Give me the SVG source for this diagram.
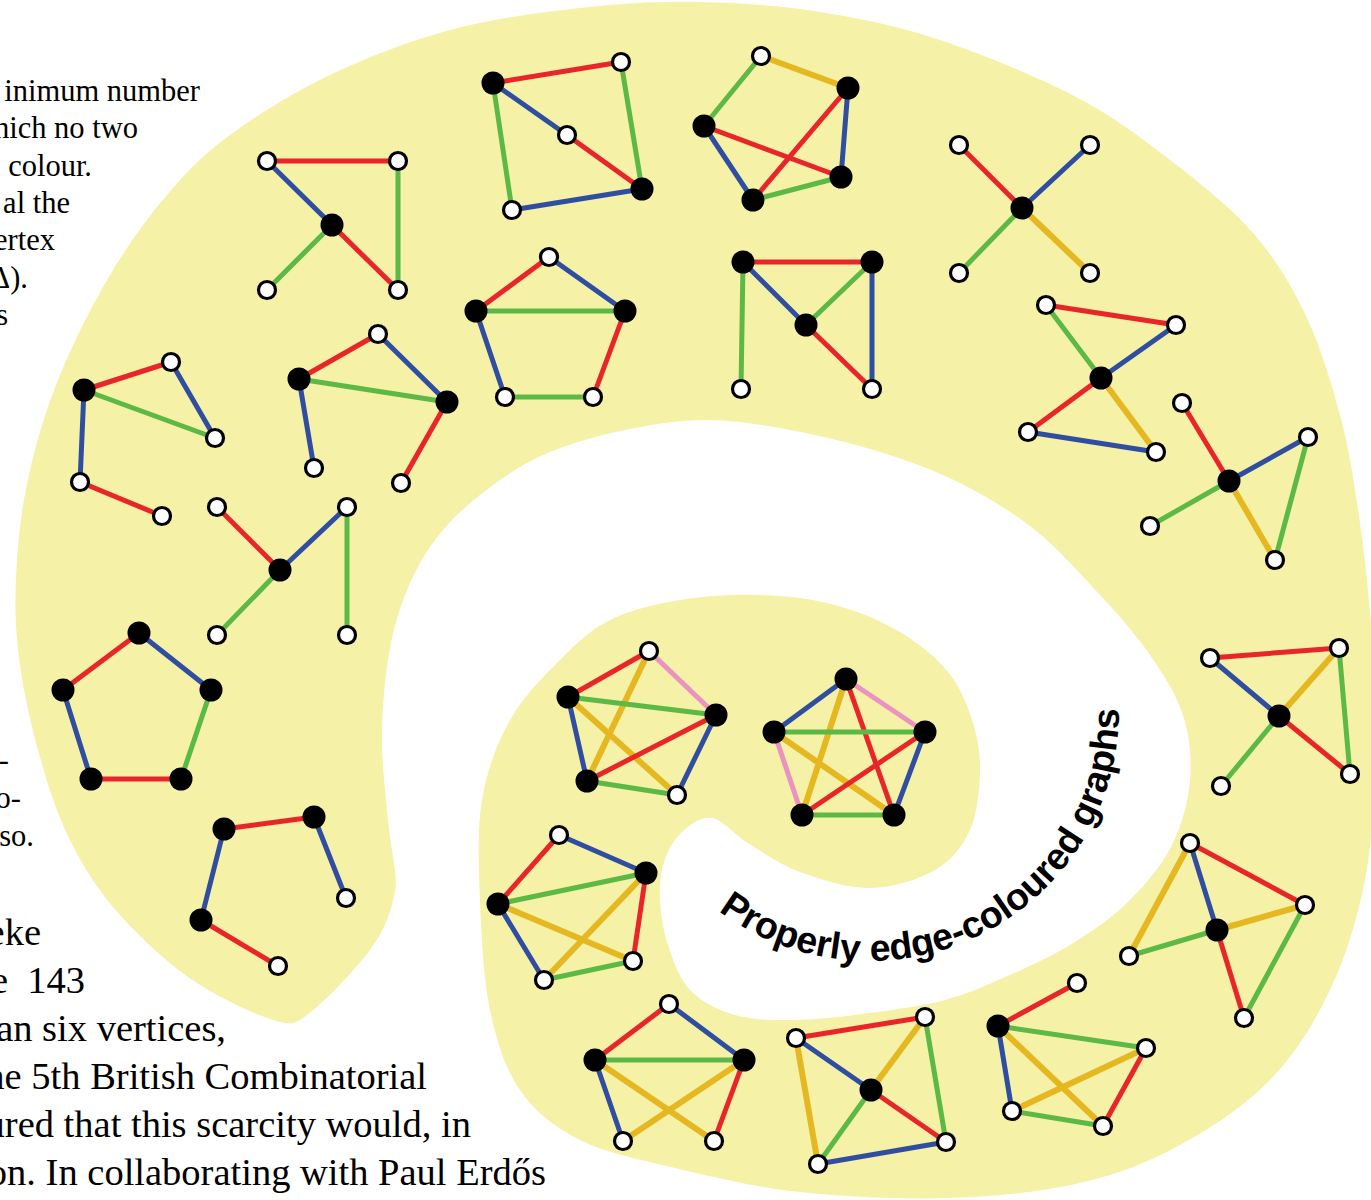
<svg xmlns="http://www.w3.org/2000/svg" xmlns:xlink="http://www.w3.org/1999/xlink" width="1371" height="1200" viewBox="0 0 1371 1200">
<style>
.bg{fill:#f5f1a6}
.e{stroke-width:5;stroke-linecap:round}
.r{stroke:#e8262a}.u{stroke:#2f4ea2}.g{stroke:#5cb946}.y{stroke:#e5b821;stroke-width:6}.p{stroke:#eb93c0}
.k{fill:#000}
.w{fill:#fff;stroke:#000;stroke-width:3.2}
.body{font-family:"Liberation Serif","Times New Roman",serif;fill:#000}
.t1{font-size:30.5px}
.t2{font-size:38.5px}
.title{font-family:"Liberation Sans",Arial,Helvetica,sans-serif;font-weight:bold;font-size:37.5px;fill:#000}
</style>
<defs>
<path id="arc" d="M 718.5 910.7 A 250 250 0 0 0 1103.9 625.5"/>
</defs>
<rect width="1371" height="1200" fill="#fff"/>
<path class="bg" d="M 200 985 C 171.2 967 141.7 939.2 120 915 S 83.7 867.5 70 840 S 46.7 781.7 38 750 S 21.5 681.7 18 650 S 15 590 17 560 S 22.8 500.8 30 470 S 46.7 407.5 60 375 S 92.2 305 110 275 S 147 218.3 167 195 S 202.8 155 230 135 S 293.3 92.5 330 75 S 408.3 41.2 450 30 S 538.3 12.7 580 8 S 660 1.3 700 2 S 780 5.7 820 12 S 897.3 25.8 940 40 S 1037.7 77 1076 97 S 1140.5 137.3 1170 160 S 1230.3 207 1253 233 S 1291.3 285 1306 316 S 1332 384.5 1341 419 S 1354.8 486.2 1360 523 S 1369.5 600.5 1372 640 S 1376.2 720 1375 760 S 1372.5 841.7 1365 880 S 1345.8 956.7 1330 990 S 1295 1054.2 1270 1080 S 1211.7 1127.8 1180 1145 S 1118.3 1174.2 1080 1183 S 996.7 1196.5 950 1198 S 845.8 1197 800 1192 S 711.7 1176.7 675 1168 S 605.8 1153 580 1140 S 535 1111.7 520 1090 S 496.7 1041.7 490 1010 S 481.3 935 480 900 S 477 830 482 800 S 497 743.3 510 720 S 543.3 676.7 560 660 S 590 630 610 620 S 655 604.2 680 600 S 734.2 594.2 760 595 S 811.7 598.8 835 605 S 881.2 620.8 900 632 S 936 657.3 948 672 S 966.7 703.7 972 720 S 980.3 751.7 980 770 S 977.5 813.3 970 830 S 951.7 860.3 935 870 S 892.5 887.7 870 888 S 820.3 879.5 800 872 S 762.7 852 748 843 S 723 819.8 712 818 S 690 824.7 682 832 S 667.7 850.7 664 862 S 659.3 886.2 660 900 S 663 930 668 945 S 678.8 978.3 690 990 S 717.5 1010 735 1015 S 772.5 1020.3 795 1020 S 845 1016.3 870 1013 S 921.7 1006.3 945 1000 S 988.3 984.7 1010 975 S 1055 954.5 1075 942 S 1113.8 916.2 1130 900 S 1162 865 1172 845 S 1188.2 801.7 1190 780 S 1189.7 735.8 1183 715 S 1163.8 675 1150 655 S 1119.2 615.8 1100 595 S 1058.3 548.7 1035 530 S 985.8 496 960 483 S 908.3 460.8 880 452 S 818.8 435.3 790 430 S 734.5 420 707 420 S 652.3 424.2 625 430 S 567.2 444.2 543 455 S 498 480.8 480 495 S 447.5 523.3 435 540 S 412.8 575 405 595 S 391.8 635.8 388 660 S 382 713.3 382 740 S 385.7 795.8 388 820 C 390.3 844.2 396 868 396 885 C 393 905 387.2 927 370 950 S 308 1020 293 1023 C 278 1026 228.8 1003 200 985 Z"/>

<g id="text-body" class="body">
<g class="t1" text-anchor="end">
<text x="200" y="101">inimum number</text>
<text x="138" y="138">hich no two</text>
<text x="92" y="176">colour.</text>
<text x="70" y="213">al the</text>
<text x="55" y="250">ertex</text>
<text x="28" y="288">Δ).</text>
<text x="8" y="325">s</text>
<text x="9" y="770">-</text>
<text x="21" y="808">o-</text>
<text x="34" y="846">so.</text>
</g>
<g class="t2" text-anchor="end">
<text x="41" y="945">eke</text>
<text x="85" y="993">e&#160; 143</text>
<text x="226" y="1041">an six vertices,</text>
<text x="427" y="1089">he 5th British Combinatorial</text>
<text x="471" y="1137">ured that this scarcity would, in</text>
<text x="546" y="1185">on. In collaborating with Paul Erdős</text>
</g>
</g>

<g id="title"><text class="title"><textPath xlink:href="#arc" href="#arc">Properly edge-coloured graphs</textPath></text></g>

<g id="connectors" class="e">
<g id="c1"><line class="r" x1="267" y1="161" x2="398" y2="161"/><line class="u" x1="267" y1="161" x2="332" y2="225"/><line class="g" x1="332" y1="225" x2="267" y2="290"/><line class="r" x1="332" y1="225" x2="398" y2="290"/><line class="g" x1="398" y1="161" x2="398" y2="290"/></g>
<g id="c2"><line class="r" x1="493" y1="83" x2="621" y2="62"/><line class="g" x1="621" y1="62" x2="642" y2="189"/><line class="u" x1="493" y1="83" x2="567" y2="135"/><line class="r" x1="567" y1="135" x2="642" y2="189"/><line class="g" x1="493" y1="83" x2="512" y2="210"/><line class="u" x1="512" y1="210" x2="642" y2="189"/></g>
<g id="c3"><line class="y" x1="761" y1="56" x2="848" y2="88"/><line class="g" x1="761" y1="56" x2="704" y2="126"/><line class="r" x1="704" y1="126" x2="841" y2="177"/><line class="r" x1="848" y1="88" x2="753" y2="200"/><line class="u" x1="848" y1="88" x2="841" y2="177"/><line class="u" x1="704" y1="126" x2="753" y2="200"/><line class="g" x1="753" y1="200" x2="841" y2="177"/></g>
<g id="c4"><line class="r" x1="1022" y1="208" x2="959" y2="145"/><line class="u" x1="1022" y1="208" x2="1090" y2="145"/><line class="g" x1="1022" y1="208" x2="959" y2="273"/><line class="y" x1="1022" y1="208" x2="1090" y2="273"/></g>
<g id="c5"><line class="r" x1="549" y1="257" x2="476" y2="311"/><line class="u" x1="549" y1="257" x2="625" y2="311"/><line class="g" x1="476" y1="311" x2="625" y2="311"/><line class="u" x1="476" y1="311" x2="505" y2="397"/><line class="r" x1="625" y1="311" x2="593" y2="397"/><line class="g" x1="505" y1="397" x2="593" y2="397"/></g>
<g id="c6"><line class="r" x1="743" y1="262" x2="872" y2="262"/><line class="u" x1="743" y1="262" x2="806" y2="325"/><line class="g" x1="806" y1="325" x2="872" y2="262"/><line class="g" x1="743" y1="262" x2="741" y2="389"/><line class="u" x1="872" y1="262" x2="872" y2="389"/><line class="r" x1="806" y1="325" x2="872" y2="389"/></g>
<g id="c7"><line class="r" x1="1046" y1="305" x2="1176" y2="325"/><line class="g" x1="1046" y1="305" x2="1101" y2="378"/><line class="u" x1="1101" y1="378" x2="1176" y2="325"/><line class="r" x1="1101" y1="378" x2="1028" y2="432"/><line class="y" x1="1101" y1="378" x2="1156" y2="452"/><line class="u" x1="1028" y1="432" x2="1156" y2="452"/></g>
<g id="c8"><line class="r" x1="1182" y1="403" x2="1229" y2="481"/><line class="u" x1="1229" y1="481" x2="1308" y2="437"/><line class="g" x1="1229" y1="481" x2="1150" y2="526"/><line class="y" x1="1229" y1="481" x2="1275" y2="560"/><line class="g" x1="1308" y1="437" x2="1275" y2="560"/></g>
<g id="c9"><line class="r" x1="84" y1="390" x2="171" y2="362"/><line class="g" x1="84" y1="390" x2="215" y2="438"/><line class="u" x1="171" y1="362" x2="215" y2="438"/><line class="u" x1="84" y1="390" x2="80" y2="482"/><line class="r" x1="80" y1="482" x2="162" y2="516"/></g>
<g id="c10"><line class="r" x1="299" y1="379" x2="378" y2="334"/><line class="u" x1="378" y1="334" x2="447" y2="402"/><line class="g" x1="299" y1="379" x2="447" y2="402"/><line class="u" x1="299" y1="379" x2="314" y2="468"/><line class="r" x1="447" y1="402" x2="401" y2="483"/></g>
<g id="c11"><line class="r" x1="217" y1="507" x2="280" y2="570"/><line class="u" x1="280" y1="570" x2="347" y2="507"/><line class="g" x1="280" y1="570" x2="217" y2="635"/><line class="g" x1="347" y1="507" x2="347" y2="635"/></g>
<g id="c12"><line class="r" x1="139" y1="633" x2="63" y2="690"/><line class="u" x1="139" y1="633" x2="211" y2="690"/><line class="u" x1="63" y1="690" x2="91" y2="779"/><line class="g" x1="211" y1="690" x2="181" y2="779"/><line class="r" x1="91" y1="779" x2="181" y2="779"/></g>
<g id="c13"><line class="r" x1="224" y1="829" x2="314" y2="817"/><line class="u" x1="224" y1="829" x2="201" y2="920"/><line class="u" x1="314" y1="817" x2="346" y2="898"/><line class="r" x1="201" y1="920" x2="278" y2="966"/></g>
<g id="c14"><line class="r" x1="649" y1="651" x2="568" y2="697"/><line class="p" x1="649" y1="651" x2="716" y2="715"/><line class="y" x1="649" y1="651" x2="587" y2="781"/><line class="g" x1="568" y1="697" x2="716" y2="715"/><line class="u" x1="568" y1="697" x2="587" y2="781"/><line class="y" x1="568" y1="697" x2="677" y2="795"/><line class="r" x1="716" y1="715" x2="587" y2="781"/><line class="u" x1="716" y1="715" x2="677" y2="795"/><line class="g" x1="587" y1="781" x2="677" y2="795"/></g>
<g id="c15"><line class="u" x1="846" y1="679" x2="774" y2="732"/><line class="p" x1="846" y1="679" x2="925" y2="732"/><line class="y" x1="846" y1="679" x2="802" y2="815"/><line class="r" x1="846" y1="679" x2="894" y2="815"/><line class="g" x1="774" y1="732" x2="925" y2="732"/><line class="p" x1="774" y1="732" x2="802" y2="815"/><line class="y" x1="774" y1="732" x2="894" y2="815"/><line class="r" x1="925" y1="732" x2="802" y2="815"/><line class="u" x1="925" y1="732" x2="894" y2="815"/><line class="g" x1="802" y1="815" x2="894" y2="815"/></g>
<g id="c16"><line class="u" x1="559" y1="835" x2="646" y2="873"/><line class="r" x1="559" y1="835" x2="498" y2="904"/><line class="g" x1="646" y1="873" x2="498" y2="904"/><line class="r" x1="646" y1="873" x2="633" y2="961"/><line class="y" x1="646" y1="873" x2="544" y2="980"/><line class="y" x1="498" y1="904" x2="633" y2="961"/><line class="u" x1="498" y1="904" x2="544" y2="980"/><line class="g" x1="633" y1="961" x2="544" y2="980"/></g>
<g id="c17"><line class="r" x1="669" y1="1004" x2="595" y2="1060"/><line class="u" x1="669" y1="1004" x2="744" y2="1060"/><line class="g" x1="595" y1="1060" x2="744" y2="1060"/><line class="u" x1="595" y1="1060" x2="623" y2="1141"/><line class="y" x1="595" y1="1060" x2="714" y2="1141"/><line class="y" x1="744" y1="1060" x2="623" y2="1141"/><line class="r" x1="744" y1="1060" x2="714" y2="1141"/></g>
<g id="c18"><line class="r" x1="796" y1="1038" x2="925" y2="1017"/><line class="u" x1="796" y1="1038" x2="871" y2="1090"/><line class="y" x1="925" y1="1017" x2="871" y2="1090"/><line class="g" x1="925" y1="1017" x2="946" y2="1142"/><line class="y" x1="796" y1="1038" x2="818" y2="1164"/><line class="g" x1="871" y1="1090" x2="818" y2="1164"/><line class="r" x1="871" y1="1090" x2="946" y2="1142"/><line class="u" x1="818" y1="1164" x2="946" y2="1142"/></g>
<g id="c19"><line class="r" x1="1077" y1="983" x2="998" y2="1026"/><line class="g" x1="998" y1="1026" x2="1146" y2="1048"/><line class="u" x1="998" y1="1026" x2="1012" y2="1111"/><line class="y" x1="998" y1="1026" x2="1103" y2="1126"/><line class="y" x1="1146" y1="1048" x2="1012" y2="1111"/><line class="r" x1="1146" y1="1048" x2="1103" y2="1126"/><line class="g" x1="1012" y1="1111" x2="1103" y2="1126"/></g>
<g id="c20"><line class="r" x1="1210" y1="658" x2="1339" y2="648"/><line class="u" x1="1210" y1="658" x2="1279" y2="716"/><line class="y" x1="1279" y1="716" x2="1339" y2="648"/><line class="g" x1="1339" y1="648" x2="1350" y2="774"/><line class="g" x1="1279" y1="716" x2="1221" y2="786"/><line class="r" x1="1279" y1="716" x2="1350" y2="774"/></g>
<g id="c21"><line class="r" x1="1190" y1="843" x2="1305" y2="905"/><line class="u" x1="1190" y1="843" x2="1217" y2="930"/><line class="y" x1="1190" y1="843" x2="1129" y2="956"/><line class="y" x1="1217" y1="930" x2="1305" y2="905"/><line class="g" x1="1217" y1="930" x2="1129" y2="956"/><line class="r" x1="1217" y1="930" x2="1244" y2="1018"/><line class="g" x1="1305" y1="905" x2="1244" y2="1018"/></g>
</g>

<g id="nodes">
<g id="n1"><circle class="w" cx="267" cy="161" r="8.5"/><circle class="w" cx="398" cy="161" r="8.5"/><circle class="k" cx="332" cy="225" r="11.5"/><circle class="w" cx="267" cy="290" r="8.5"/><circle class="w" cx="398" cy="290" r="8.5"/></g>
<g id="n2"><circle class="k" cx="493" cy="83" r="11.5"/><circle class="w" cx="621" cy="62" r="8.5"/><circle class="w" cx="567" cy="135" r="8.5"/><circle class="k" cx="642" cy="189" r="11.5"/><circle class="w" cx="512" cy="210" r="8.5"/></g>
<g id="n3"><circle class="w" cx="761" cy="56" r="8.5"/><circle class="k" cx="848" cy="88" r="11.5"/><circle class="k" cx="704" cy="126" r="11.5"/><circle class="k" cx="841" cy="177" r="11.5"/><circle class="k" cx="753" cy="200" r="11.5"/></g>
<g id="n4"><circle class="k" cx="1022" cy="208" r="11.5"/><circle class="w" cx="959" cy="145" r="8.5"/><circle class="w" cx="1090" cy="145" r="8.5"/><circle class="w" cx="959" cy="273" r="8.5"/><circle class="w" cx="1090" cy="273" r="8.5"/></g>
<g id="n5"><circle class="w" cx="549" cy="257" r="8.5"/><circle class="k" cx="476" cy="311" r="11.5"/><circle class="k" cx="625" cy="311" r="11.5"/><circle class="w" cx="505" cy="397" r="8.5"/><circle class="w" cx="593" cy="397" r="8.5"/></g>
<g id="n6"><circle class="k" cx="743" cy="262" r="11.5"/><circle class="k" cx="872" cy="262" r="11.5"/><circle class="k" cx="806" cy="325" r="11.5"/><circle class="w" cx="741" cy="389" r="8.5"/><circle class="w" cx="872" cy="389" r="8.5"/></g>
<g id="n7"><circle class="w" cx="1046" cy="305" r="8.5"/><circle class="w" cx="1176" cy="325" r="8.5"/><circle class="k" cx="1101" cy="378" r="11.5"/><circle class="w" cx="1028" cy="432" r="8.5"/><circle class="w" cx="1156" cy="452" r="8.5"/></g>
<g id="n8"><circle class="w" cx="1182" cy="403" r="8.5"/><circle class="k" cx="1229" cy="481" r="11.5"/><circle class="w" cx="1308" cy="437" r="8.5"/><circle class="w" cx="1150" cy="526" r="8.5"/><circle class="w" cx="1275" cy="560" r="8.5"/></g>
<g id="n9"><circle class="k" cx="84" cy="390" r="11.5"/><circle class="w" cx="171" cy="362" r="8.5"/><circle class="w" cx="215" cy="438" r="8.5"/><circle class="w" cx="80" cy="482" r="8.5"/><circle class="w" cx="162" cy="516" r="8.5"/></g>
<g id="n10"><circle class="k" cx="299" cy="379" r="11.5"/><circle class="w" cx="378" cy="334" r="8.5"/><circle class="k" cx="447" cy="402" r="11.5"/><circle class="w" cx="314" cy="468" r="8.5"/><circle class="w" cx="401" cy="483" r="8.5"/></g>
<g id="n11"><circle class="w" cx="217" cy="507" r="8.5"/><circle class="w" cx="347" cy="507" r="8.5"/><circle class="k" cx="280" cy="570" r="11.5"/><circle class="w" cx="217" cy="635" r="8.5"/><circle class="w" cx="347" cy="635" r="8.5"/></g>
<g id="n12"><circle class="k" cx="139" cy="633" r="11.5"/><circle class="k" cx="63" cy="690" r="11.5"/><circle class="k" cx="211" cy="690" r="11.5"/><circle class="k" cx="91" cy="779" r="11.5"/><circle class="k" cx="181" cy="779" r="11.5"/></g>
<g id="n13"><circle class="k" cx="224" cy="829" r="11.5"/><circle class="k" cx="314" cy="817" r="11.5"/><circle class="k" cx="201" cy="920" r="11.5"/><circle class="w" cx="346" cy="898" r="8.5"/><circle class="w" cx="278" cy="966" r="8.5"/></g>
<g id="n14"><circle class="w" cx="649" cy="651" r="8.5"/><circle class="k" cx="568" cy="697" r="11.5"/><circle class="k" cx="716" cy="715" r="11.5"/><circle class="k" cx="587" cy="781" r="11.5"/><circle class="w" cx="677" cy="795" r="8.5"/></g>
<g id="n15"><circle class="k" cx="846" cy="679" r="11.5"/><circle class="k" cx="774" cy="732" r="11.5"/><circle class="k" cx="925" cy="732" r="11.5"/><circle class="k" cx="802" cy="815" r="11.5"/><circle class="k" cx="894" cy="815" r="11.5"/></g>
<g id="n16"><circle class="w" cx="559" cy="835" r="8.5"/><circle class="k" cx="646" cy="873" r="11.5"/><circle class="k" cx="498" cy="904" r="11.5"/><circle class="w" cx="633" cy="961" r="8.5"/><circle class="w" cx="544" cy="980" r="8.5"/></g>
<g id="n17"><circle class="w" cx="669" cy="1004" r="8.5"/><circle class="k" cx="595" cy="1060" r="11.5"/><circle class="k" cx="744" cy="1060" r="11.5"/><circle class="w" cx="623" cy="1141" r="8.5"/><circle class="w" cx="714" cy="1141" r="8.5"/></g>
<g id="n18"><circle class="w" cx="796" cy="1038" r="8.5"/><circle class="w" cx="925" cy="1017" r="8.5"/><circle class="k" cx="871" cy="1090" r="11.5"/><circle class="w" cx="818" cy="1164" r="8.5"/><circle class="w" cx="946" cy="1142" r="8.5"/></g>
<g id="n19"><circle class="w" cx="1077" cy="983" r="8.5"/><circle class="k" cx="998" cy="1026" r="11.5"/><circle class="w" cx="1146" cy="1048" r="8.5"/><circle class="w" cx="1012" cy="1111" r="8.5"/><circle class="w" cx="1103" cy="1126" r="8.5"/></g>
<g id="n20"><circle class="w" cx="1210" cy="658" r="8.5"/><circle class="w" cx="1339" cy="648" r="8.5"/><circle class="k" cx="1279" cy="716" r="11.5"/><circle class="w" cx="1221" cy="786" r="8.5"/><circle class="w" cx="1350" cy="774" r="8.5"/></g>
<g id="n21"><circle class="w" cx="1190" cy="843" r="8.5"/><circle class="w" cx="1305" cy="905" r="8.5"/><circle class="k" cx="1217" cy="930" r="11.5"/><circle class="w" cx="1129" cy="956" r="8.5"/><circle class="w" cx="1244" cy="1018" r="8.5"/></g>
</g>
</svg>
